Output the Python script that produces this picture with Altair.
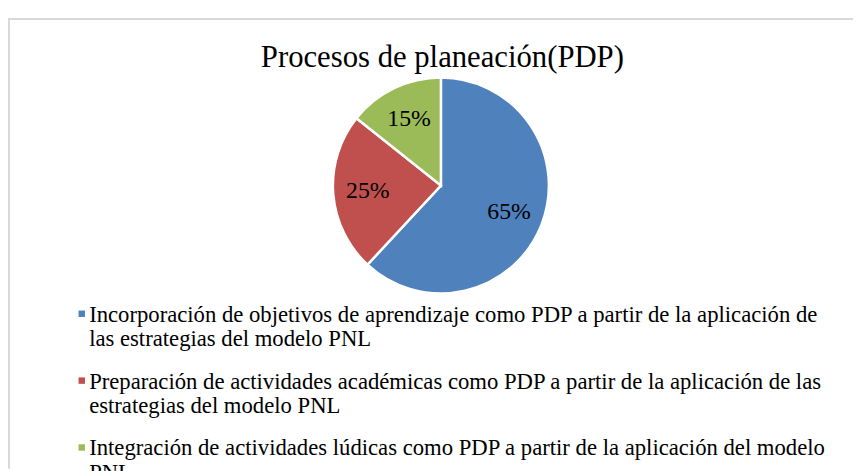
import altair as alt
import pandas as pd

title_text = "Procesos de planeación(PDP)"
categories = [
    "Incorporación de objetivos de aprendizaje como PDP a partir de la aplicación de|las estrategias del modelo PNL",
    "Preparación de actividades académicas como PDP a partir de la aplicación de las|estrategias del modelo PNL",
    "Integración de actividades lúdicas como PDP a partir de la aplicación del modelo|PNL",
]
values = [65, 25, 15]
labels = ["65%", "25%", "15%"]
order = [0, 1, 2]
colors = ["#4F81BD", "#C0504D", "#9BBB59"]

df = pd.DataFrame({"cat": categories, "value": values, "label": labels, "order": order})

W, H = 853, 455
FONT = "Liberation Serif"
CX, CY = 437, 169

base = alt.Chart(df).encode(
    theta=alt.Theta("value:Q", stack=True),
    order=alt.Order("order:Q"),
)

pie = base.mark_arc(radius=109, stroke="white", strokeWidth=2.5).encode(
    x=alt.value(CX),
    y=alt.value(CY),
    color=alt.Color(
        "cat:N",
        scale=alt.Scale(domain=categories, range=colors),
        legend=alt.Legend(
            title=None,
            orient="none",
            legendX=63,
            legendY=287,
            direction="vertical",
            symbolType="square",
            symbolSize=42,
            symbolStrokeWidth=0,
            labelFont=FONT,
            labelFontSize=22.9,
            labelColor="#000000",
            labelLimit=2000,
            labelOffset=0,
            labelBaseline="top",
            rowPadding=17.5,
            padding=0,
            labelExpr="split(datum.label, '|')",
        ),
    ),
)

txt = base.mark_text(radius=74, font=FONT, fontSize=24, color="#000000").encode(
    x=alt.value(CX),
    y=alt.value(CY),
    text="label:N",
)

title = alt.Chart(alt.Data(values=[{"t": title_text}])).mark_text(
    font=FONT, fontSize=31, color="#000000", baseline="alphabetic"
).encode(x=alt.value(438.5), y=alt.value(49), text="t:N")

frame_left = alt.Chart(alt.Data(values=[{}])).mark_rule(color="#D9D9D9", strokeWidth=2).encode(
    x=alt.value(1), y=alt.value(0), y2=alt.value(H)
)
frame_top = alt.Chart(alt.Data(values=[{}])).mark_rule(color="#D9D9D9", strokeWidth=2).encode(
    y=alt.value(1), x=alt.value(0), x2=alt.value(W)
)

chart = alt.layer(frame_left, frame_top, pie, txt, title).properties(
    width=W,
    height=H,
    autosize=alt.AutoSizeParams(type="none"),
    padding={"left": 0, "top": 8, "right": 0, "bottom": 0},
    background="white",
).configure(
    view=alt.ViewConfig(stroke=None),
    style={"guide-label": {"lineHeight": 25, "dy": -10, "dx": -4}},
)

chart.save("out.html", embed_options={"renderer": "svg", "actions": False})
